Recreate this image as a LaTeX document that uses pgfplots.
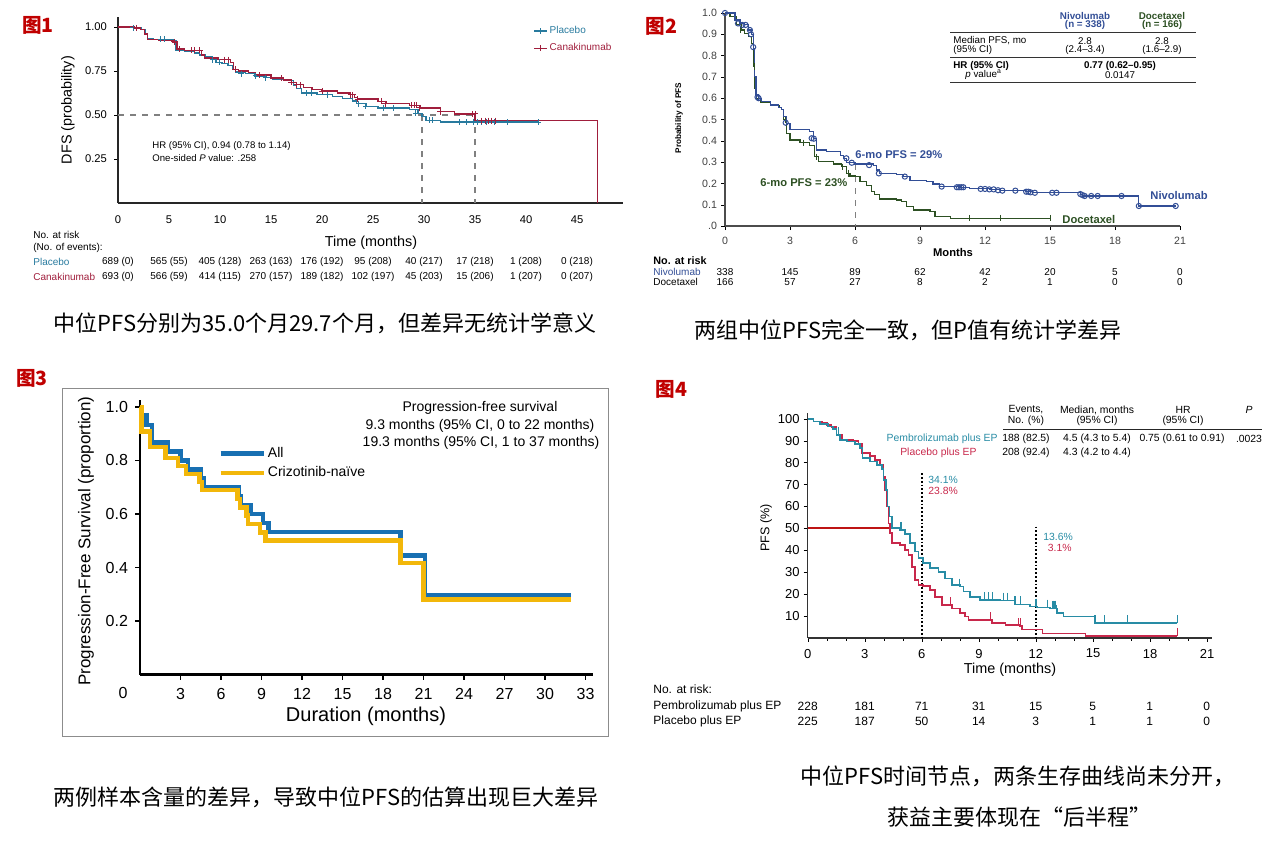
\documentclass[border=0pt]{standalone}
\usepackage{fontspec}
\setmainfont{Liberation Sans}
\newfontfamily\cjk{Noto Sans CJK SC}
\usepackage{pgfplots}
\pgfplotsset{compat=1.18}
\newcommand\fs[1]{\fontsize{#1}{#1}\selectfont}

\definecolor{figred}{RGB}{192,0,0}
\definecolor{ateal}{RGB}{40,122,158}
\definecolor{ared}{RGB}{160,30,60}
\definecolor{bblue}{RGB}{50,78,150}
\definecolor{bgreen}{RGB}{45,80,35}
\definecolor{cblue}{RGB}{24,112,178}
\definecolor{cgold}{RGB}{242,183,10}
\definecolor{dteal}{RGB}{40,140,165}
\definecolor{dred}{RGB}{200,40,75}
\definecolor{dline}{RGB}{190,20,20}

\pgfplotsset{
  km/.style={scale only axis, anchor=south west, clip=false,
    axis x line*=bottom, axis y line*=left, axis line style={-},
    /pgf/number format/assume math mode=true,
    tick align=outside, tick style={black}},
}

\begin{document}
\begin{tikzpicture}
\begin{scope}[x=0.5pt,y=-0.5pt, every node/.append style={inner sep=0pt}]
\useasboundingbox (0,0) rectangle (1268,842);
% figure tags
\node[anchor=west, font=\cjk\bfseries\fs{9.8}, text=figred] at (22,25) {图1};
\node[anchor=west, font=\cjk\bfseries\fs{9.8}, text=figred] at (645,26) {图2};
\node[anchor=west, font=\cjk\bfseries\fs{9.8}, text=figred] at (16,378) {图3};
\node[anchor=west, font=\cjk\bfseries\fs{9.8}, text=figred] at (655,389) {图4};
% captions
\node[font=\cjk\fs{11}] at (325,323) {中位PFS分别为35.0个月29.7个月，但差异无统计学意义};
\node[font=\cjk\fs{11}] at (908,330) {两组中位PFS完全一致，但P值有统计学差异};
\node[font=\cjk\fs{11}] at (326,797) {两例样本含量的差异，导致中位PFS的估算出现巨大差异};
\node[font=\cjk\fs{11}] at (1018,776) {中位PFS时间节点，两条生存曲线尚未分开，};
\node[font=\cjk\fs{11}] at (1019,817) {获益主要体现在“后半程”};

% ---- panel 1 text
\node[rotate=90, font=\fs{7.2}] at (68,110) {DFS (probability)};
\node[font=\fs{7.2}] at (371,243) {Time (months)};
\node[anchor=west, font=\fs{4.8}] at (152,146) {HR (95\% CI), 0.94 (0.78 to 1.14)};
\node[anchor=west, font=\fs{4.8}] at (152,158) {One-sided \textit{P} value: .258};
\begin{scope}[font=\fs{5}]
\node[anchor=west] at (33,235) {No. at risk};
\node[anchor=west] at (33,248) {(No. of events):};
\node[anchor=west, text=ateal] at (33,262) {Placebo};
\node[anchor=west, text=ared] at (33,277) {Canakinumab};
\foreach \v [count=\i from 0] in {689 (0),565 (55),405 (128),263 (163),176 (192),95 (208),40 (217),17 (218),1 (208),0 (218)}
  \node at (118+51*\i,262) {\v};
\foreach \v [count=\i from 0] in {693 (0),566 (59),414 (115),270 (157),189 (182),102 (197),45 (203),15 (206),1 (207),0 (207)}
  \node at (118+51*\i,277) {\v};
\end{scope}

% ---- panel 2 text
\node[rotate=90, font=\bfseries\fs{4.1}] at (679,118) {Probability of PFS};
\node[font=\bfseries\fs{5.6}] at (953,252) {Months};
\node[anchor=west, font=\bfseries\fs{5.6}, text=bblue] at (855,155) {6-mo PFS = 29\%};
\node[anchor=west, font=\bfseries\fs{5.6}, text=bgreen] at (760,183) {6-mo PFS = 23\%};
\node[anchor=west, font=\bfseries\fs{5.6}, text=bblue] at (1150,195) {Nivolumab};
\node[anchor=west, font=\bfseries\fs{5.6}, text=bgreen] at (1062,219) {Docetaxel};
\begin{scope}[font=\fs{4.9}]
\node[font=\bfseries\fs{4.9}, text=bblue] at (1085,15.5) {Nivolumab};
\node[font=\bfseries\fs{4.9}, text=bblue] at (1085,25) {(n = 338)};
\node[font=\bfseries\fs{4.9}, text=bgreen] at (1162,15.5) {Docetaxel};
\node[font=\bfseries\fs{4.9}, text=bgreen] at (1162,25) {(n = 166)};
\draw[line width=0.5pt, black!80] (950,32.5) -- (1196,32.5);
\node[anchor=west] at (953,41) {Median PFS, mo};
\node[anchor=west] at (953,50) {(95\% CI)};
\node at (1085,41) {2.8};
\node at (1085,50) {(2.4–3.4)};
\node at (1162,41) {2.8};
\node at (1162,50) {(1.6–2.9)};
\draw[line width=0.5pt, black!80] (950,57.3) -- (1196,57.3);
\node[anchor=west, font=\bfseries\fs{4.9}] at (953,66) {HR (95\% CI)};
\node[anchor=west] at (965,75) {\textit{p} value\textsuperscript{a}};
\node[font=\bfseries\fs{4.9}] at (1120,66) {0.77 (0.62–0.95)};
\node at (1120,75) {0.0147};
\draw[line width=0.5pt, black!80] (950,82.3) -- (1196,82.3);
\end{scope}
\begin{scope}[font=\fs{5}]
\node[anchor=west, font=\bfseries\fs{5.4}] at (653,261) {No. at risk};
\node[anchor=west, text=bblue] at (653,271.7) {Nivolumab};
\node[anchor=west] at (653,282) {Docetaxel};
\foreach \v [count=\i from 0] in {338,145,89,62,42,20,5,0}
  \node at (725+65*\i,271.7) {\v};
\foreach \v [count=\i from 0] in {166,57,27,8,2,1,0,0}
  \node at (725+65*\i,282) {\v};
\end{scope}

% ---- panel 3 text
\draw[black!45, line width=0.5pt] (62,388) rectangle (608,736);
\node[rotate=90, font=\fs{8.5}] at (86,541) {Progression-Free Survival (proportion)};
\node[font=\fs{10}] at (366,716) {Duration (months)};
\node[font=\fs{8}] at (123,693) {0};
\node[font=\fs{7}] at (480,408) {Progression-free survival};
\node[font=\fs{7}] at (480,425.7) {9.3 months (95\% CI, 0 to 22 months)};
\node[font=\fs{7}] at (481,443.3) {19.3 months (95\% CI, 1 to 37 months)};

% ---- panel 4 text
\node[rotate=90, font=\fs{6.3}] at (766,528) {PFS (\%)};
\node[font=\fs{7.2}] at (1010,670) {Time (months)};
\node[anchor=west, font=\fs{5.2}, text=dteal] at (928,480) {34.1\%};
\node[anchor=west, font=\fs{5.2}, text=dred] at (928,491) {23.8\%};
\node[anchor=west, font=\fs{5.2}, text=dteal] at (1043,537) {13.6\%};
\node[anchor=west, font=\fs{5.2}, text=dred] at (1047.5,548) {3.1\%};
\begin{scope}[font=\fs{5.2}]
\node at (1026,410) {Events,};
\node at (1026,421) {No. (\%)};
\node at (1097,410) {Median, months};
\node at (1097,421) {(95\% CI)};
\node at (1183,410) {HR};
\node at (1183,421) {(95\% CI)};
\node at (1249,410) {\textit{P}};
\draw[line width=0.5pt, black!85] (1003,429.3) -- (1262,429.3);
\node[anchor=east, text=dteal] at (998,439) {Pembrolizumab plus EP};
\node at (1026,439) {188 (82.5)};
\node at (1097,439) {4.5 (4.3 to 5.4)};
\node at (1182,439) {0.75 (0.61 to 0.91)};
\node at (1249,439) {.0023};
\node[anchor=east, text=dred] at (977,452.7) {Placebo plus EP};
\node at (1026,452.7) {208 (92.4)};
\node at (1097,452.7) {4.3 (4.2 to 4.4)};
\end{scope}
\begin{scope}[font=\fs{6}]
\node[anchor=west] at (653,689) {No. at risk:};
\node[anchor=west] at (653,706) {Pembrolizumab plus EP};
\node[anchor=west] at (653,721.7) {Placebo plus EP};
\foreach \v [count=\i from 0] in {228,181,71,31,15,5,1,0}
  \node at (807.7+57*\i,706) {\v};
\foreach \v [count=\i from 0] in {225,187,50,14,3,1,1,0}
  \node at (807.7+57*\i,721.7) {\v};
\end{scope}
\end{scope}

% ================= panel 1 =================
\begin{axis}[km, at={(59pt,-101.5pt)}, width=252.5pt, height=93pt,
  xmin=0, xmax=49.5, ymin=0, ymax=1.057,
  xtick={0,5,...,45}, ytick={0.25,0.5,0.75,1},
  yticklabels={0.25,0.50,0.75,1.00},
  ticklabel style={font=\fs{5.6}},
  major x tick style={draw=none}, major tick length=2pt,
  axis line style={line width=0.7pt, black!85},
  xticklabel style={yshift=-1pt},
  legend style={at={(axis description cs:0.822,0.965)}, anchor=north west,
    draw=none, fill=none, font=\fs{5}, inner sep=0pt, row sep=1.5pt,
    nodes={inner sep=1pt}},
  legend cell align=left,
  legend image code/.code={\draw[mark repeat=2,mark phase=2,#1] plot coordinates {(0pt,0pt) (3.25pt,0pt) (6.5pt,0pt)};}]
\addlegendimage{ateal, mark=+, line width=0.6pt, mark size=1.5pt}
\addlegendentry{\textcolor{ateal}{Placebo}}
\addlegendimage{ared, mark=+, line width=0.6pt, mark size=1.5pt}
\addlegendentry{\textcolor{ared}{Canakinumab}}
\addplot[gray, dashed, line width=0.6pt, forget plot] coordinates {(0,0.5) (35,0.5)};
\addplot[gray, dashed, line width=0.6pt, forget plot] coordinates {(29.8,0.5) (29.8,0)};
\addplot[gray, dashed, line width=0.6pt, forget plot] coordinates {(35,0.5) (35,0)};
\addplot[const plot, ateal, line width=0.7pt, forget plot] coordinates {
(0,1.000) (1.6,0.995) (2.3,0.985) (2.7,0.96) (2.9,0.932) (3.5,0.93) (5.4,0.92)
(5.7,0.868) (6.5,0.86) (7.5,0.852) (8.0,0.84) (8.6,0.83) (9.2,0.815) (9.6,0.80)
(10.2,0.792) (10.8,0.783) (11.2,0.76) (11.5,0.745) (12.5,0.735) (13.4,0.722)
(14.5,0.712) (15.2,0.703) (16.8,0.697) (17.2,0.67) (17.5,0.65) (18.0,0.625)
(19.5,0.615) (21.0,0.605) (22.0,0.595) (23.0,0.580) (23.4,0.565) (24.3,0.55)
(25.5,0.54) (28.6,0.530) (29.4,0.51) (29.8,0.49) (30.2,0.47) (31.6,0.460) (41.3,0.460)};
\addplot[const plot, ared, line width=0.7pt, forget plot] coordinates {
(0,1.000) (1.6,0.995) (2.2,0.985) (2.6,0.96) (2.9,0.93) (4.0,0.925) (5.4,0.915)
(5.8,0.875) (6.5,0.868) (8.2,0.84) (8.5,0.825) (9.8,0.815) (11.0,0.80) (11.3,0.76)
(11.8,0.75) (12.8,0.74) (13.5,0.727) (15.0,0.71) (16.2,0.70) (17.0,0.685)
(17.5,0.672) (18.2,0.655) (19.0,0.645) (20.0,0.636) (21.5,0.625) (22.8,0.615)
(23.2,0.60) (23.5,0.59) (25.5,0.578) (26.3,0.565) (28.6,0.555) (29.6,0.54)
(31.6,0.52) (33.0,0.506) (35.0,0.468) (47.0,0.468) (47.0,0.0)};
\addplot[only marks, mark=+, mark size=1.5pt, ateal, line width=0.5pt, forget plot] coordinates {
(1.5,0.995) (4.2,0.93) (4.6,0.93) (9.3,0.815) (9.9,0.80) (12.1,0.735) (13.5,0.722)
(14.5,0.712) (18.5,0.625) (19.0,0.625) (20.5,0.615) (23.6,0.565) (24.3,0.55)
(26.0,0.54) (27.0,0.54) (29.2,0.51) (30.5,0.47) (30.8,0.47) (33.5,0.46) (34.2,0.46)
(34.8,0.46) (35.2,0.46) (35.6,0.46) (36.1,0.46) (36.9,0.46) (38.2,0.46) (41.2,0.46)};
\addplot[only marks, mark=+, mark size=1.5pt, ared, line width=0.5pt, forget plot] coordinates {
(1.8,0.995) (5.5,0.915) (6.0,0.875) (7.2,0.868) (7.5,0.868) (8.0,0.868) (10.4,0.815)
(10.8,0.815) (11.5,0.76) (13.9,0.727) (16.0,0.71) (17.0,0.685) (17.5,0.672)
(17.9,0.672) (20.0,0.636) (22.8,0.615) (23.0,0.615) (23.5,0.59) (25.8,0.578)
(26.2,0.565) (28.8,0.555) (29.1,0.555) (29.3,0.555) (29.6,0.54) (31.6,0.52)
(34.7,0.506) (35.0,0.506) (35.6,0.468) (36.0,0.468) (36.3,0.468) (36.6,0.468) (37.0,0.468)};
\end{axis}

% ================= panel 2 =================
\begin{axis}[km, at={(362.5pt,-113pt)}, width=227.5pt, height=106.5pt,
  xmin=0, xmax=21, ymin=0, ymax=1,
  xtick={0,3,...,21}, ytick={0,0.1,0.2,0.3,0.4,0.5,0.6,0.7,0.8,0.9,1},
  yticklabels={.0,0.1,0.2,0.3,0.4,0.5,0.6,0.7,0.8,0.9,1.0},
  ticklabel style={font=\fs{5.3}, text=black!75},
  yticklabel style={xshift=1.5pt},
  major tick length=2pt,
  axis line style={line width=0.6pt, black!70}]
\addplot[gray, dashed, line width=0.5pt] coordinates {(6,0.29) (6,0)};
\addplot[const plot, bgreen, line width=0.55pt] coordinates {
(0,1.0) (0.23,0.983) (0.54,0.944) (0.77,0.92) (0.92,0.905) (1.08,0.89) (1.23,0.858)
(1.31,0.748) (1.38,0.646) (1.46,0.60) (1.62,0.579) (2.1,0.565) (2.5,0.555)
(2.62,0.545) (2.69,0.498) (2.85,0.435) (3.0,0.404) (3.46,0.391) (3.92,0.38)
(4.15,0.325) (4.31,0.302) (5.0,0.291) (5.38,0.278) (5.62,0.247) (5.77,0.235)
(6.0,0.232) (6.23,0.208) (6.54,0.192) (6.77,0.161) (6.92,0.146) (7.15,0.127)
(7.92,0.122) (8.15,0.114) (8.38,0.091) (8.69,0.075) (9.46,0.067) (9.69,0.044)
(10.4,0.037) (15.0,0.037)};
\addplot[const plot, bblue, line width=0.55pt] coordinates {
(0,1.0) (0.46,0.967) (0.69,0.951) (0.92,0.944) (1.08,0.92) (1.23,0.897) (1.31,0.834)
(1.35,0.70) (1.43,0.615) (1.54,0.60) (1.69,0.583) (2.08,0.568) (2.46,0.557)
(2.62,0.545) (2.69,0.513) (2.82,0.482) (3.0,0.454) (3.92,0.443) (4.08,0.412)
(4.23,0.357) (4.69,0.35) (5.31,0.333) (5.46,0.318) (5.62,0.297) (6.0,0.291)
(6.84,0.286) (7.0,0.263) (7.15,0.247) (7.92,0.243) (8.23,0.232) (8.54,0.213)
(9.3,0.208) (9.6,0.197) (9.92,0.185) (10.85,0.182) (11.3,0.174) (12.23,0.172)
(12.7,0.166) (13.85,0.161) (14.2,0.156) (16.4,0.150) (16.5,0.141) (19.1,0.094) (20.8,0.094)};
\addplot[only marks, mark=|, mark size=1.6pt, bgreen, line width=0.45pt] coordinates {
(0.7,0.92) (1.35,0.748) (2.8,0.498) (3.6,0.391) (4.2,0.325) (5.4,0.278) (5.7,0.247)
(11.3,0.037) (12.7,0.037) (15.0,0.037)};
\addplot[only marks, mark=o, mark size=1.3pt, bblue, line width=0.5pt] coordinates {
(0,1.0) (0.6,0.951) (0.8,0.944) (0.95,0.944) (1.15,0.92) (1.2,0.9) (1.3,0.84)
(1.5,0.605) (1.55,0.6) (2.8,0.485) (4.0,0.412) (4.1,0.41) (5.6,0.318) (5.85,0.297)
(6.65,0.286) (7.1,0.247) (8.3,0.232) (10.0,0.185) (10.7,0.182) (10.8,0.182)
(10.9,0.182) (11.0,0.182) (11.8,0.174) (12.0,0.174) (12.2,0.172) (12.4,0.172)
(12.6,0.168) (12.8,0.166) (13.4,0.166) (13.9,0.161) (14.0,0.161) (14.1,0.158)
(14.3,0.156) (15.1,0.156) (15.3,0.156) (16.4,0.150) (16.5,0.145) (16.6,0.141)
(16.9,0.141) (17.2,0.141) (18.3,0.141) (19.1,0.094) (20.8,0.094)};
\end{axis}

% ================= panel 3 =================
\begin{axis}[km, at={(70pt,-337.25pt)}, width=226.5pt, height=137.25pt,
  xmin=0, xmax=33.55, ymin=0, ymax=1.026,
  xtick={3,6,...,33}, ytick={0.2,0.4,0.6,0.8,1.0},
  yticklabels={0.2,0.4,0.6,0.8,1.0},
  ticklabel style={font=\fs{8}},
  major tick length=2.5pt, x tick label style={yshift=-1pt},
  axis line style={line width=1.1pt, black}, tick style={line width=0.6pt},
  legend style={at={(axis description cs:0.172,0.838)}, anchor=north west,
    draw=none, fill=none, font=\fs{7}, inner sep=0pt, row sep=1.2pt,
    nodes={inner sep=1pt, xshift=2.5pt}},
  legend cell align=left,
  legend image code/.code={\draw[#1] (-2.5pt,0pt) -- (19pt,0pt);}]
\addplot[const plot, cblue, line width=2.3pt] coordinates {
(0,1.0) (0.15,0.967) (0.5,0.933) (0.9,0.867) (2.05,0.833) (3.0,0.80) (3.55,0.767)
(4.5,0.733) (4.7,0.70) (7.3,0.667) (7.45,0.633) (8.2,0.60) (9.1,0.567) (9.5,0.533)
(19.3,0.444) (21.1,0.296) (31.9,0.296)};
\addlegendentry{All}
\addplot[const plot, cgold, line width=2.3pt] coordinates {
(0,1.0) (0.1,0.908) (0.74,0.85) (1.9,0.81) (2.8,0.78) (3.4,0.75) (4.4,0.72)
(4.6,0.69) (7.2,0.656) (7.4,0.625) (7.9,0.594) (8.0,0.5625) (8.9,0.53) (9.3,0.50)
(19.3,0.417) (21.0,0.281) (31.9,0.281)};
\addlegendentry{Crizotinib-naïve}
\end{axis}

% ================= panel 4 =================
\begin{axis}[km, at={(403.85pt,-318.95pt)}, width=202.2pt, height=112.5pt,
  xmin=0, xmax=21.26, ymin=0, ymax=102.7,
  xtick={0,3,...,21}, ytick={10,20,...,100}, minor x tick num=2,
  ticklabel style={font=\fs{6.5}},
  yticklabel style={xshift=1.5pt},
  major tick length=2pt, minor tick length=1.5pt,
  axis line style={line width=0.7pt, black!80}]
\addplot[dline, line width=1pt] coordinates {(0,50) (4.38,50)};
\addplot[densely dotted, line width=0.9pt, black] coordinates {(6,75.2) (6,0)};
\addplot[densely dotted, line width=0.9pt, black] coordinates {(12,50.8) (12,0)};
\addplot[const plot, dred, line width=0.8pt] coordinates {
(0,100) (0.3,98.8) (0.74,98.0) (1.0,97.3) (1.26,96.2) (1.52,92.7) (1.79,90.4)
(2.4,90.0) (2.66,88.6) (2.84,84.3) (3.28,83.1) (3.54,81.3) (3.8,79.0) (3.98,73.6)
(4.07,67.6) (4.16,59.9) (4.24,52.3) (4.33,47.8) (4.42,43.2) (4.86,42.4) (5.12,40.2)
(5.30,37.9) (5.47,32.5) (5.65,26.5) (5.82,24.2) (6.05,23.7) (6.44,21.9) (6.70,18.8)
(7.05,15.0) (7.58,13.5) (8.02,11.5) (8.28,9.7) (8.45,8.2) (9.7,6.7) (10.4,5.9)
(11.17,5.4) (11.26,3.9) (12.35,2.1) (14.6,1.0) (19.42,1.0)};
\addplot[const plot, dteal, line width=0.8pt] coordinates {
(0,100) (0.3,98.8) (0.65,97.7) (1.08,96.5) (1.34,95.3) (1.52,92.7) (1.7,90.4)
(2.05,89.6) (2.49,88.6) (2.75,86.6) (2.89,82.0) (3.28,80.5) (3.63,79.0) (3.89,77.2)
(3.98,72.1) (4.12,67.6) (4.19,59.9) (4.30,55.4) (4.42,50.1) (4.86,49.3) (5.12,47.5)
(5.38,43.2) (5.65,39.4) (5.82,36.4) (6.05,34.1) (6.44,31.8) (6.88,30.2) (7.23,27.2)
(7.58,24.2) (8.02,23.4) (8.19,21.1) (8.54,18.8) (9.07,17.3) (10.1,17.0) (10.9,15.3)
(11.7,14.3) (12.05,13.8) (12.75,13.4) (13.1,11.5) (13.45,9.7) (15.1,6.7) (19.42,6.7)};
\addplot[only marks, mark=|, mark size=2pt, dteal, line width=0.6pt] coordinates {
(1.6,94.5) (4.9,51.1) (8.0,25.2) (9.3,19.1) (9.5,19.1) (9.7,19.1) (10.3,18.8)
(10.5,18.8) (10.9,17.1) (11.2,17.1) (12.0,16.1) (12.6,15.6) (12.9,15.2) (13.0,15.2)
(13.1,13.3) (15.1,8.5) (15.6,8.5) (16.8,8.5) (19.42,8.5)};
\addplot[only marks, mark=|, mark size=2pt, dred, line width=0.6pt] coordinates {
(7.5,16.8) (9.6,9.8) (11.1,7.2) (11.2,7.2) (19.42,2.8)};
\end{axis}
\end{tikzpicture}
\end{document}
